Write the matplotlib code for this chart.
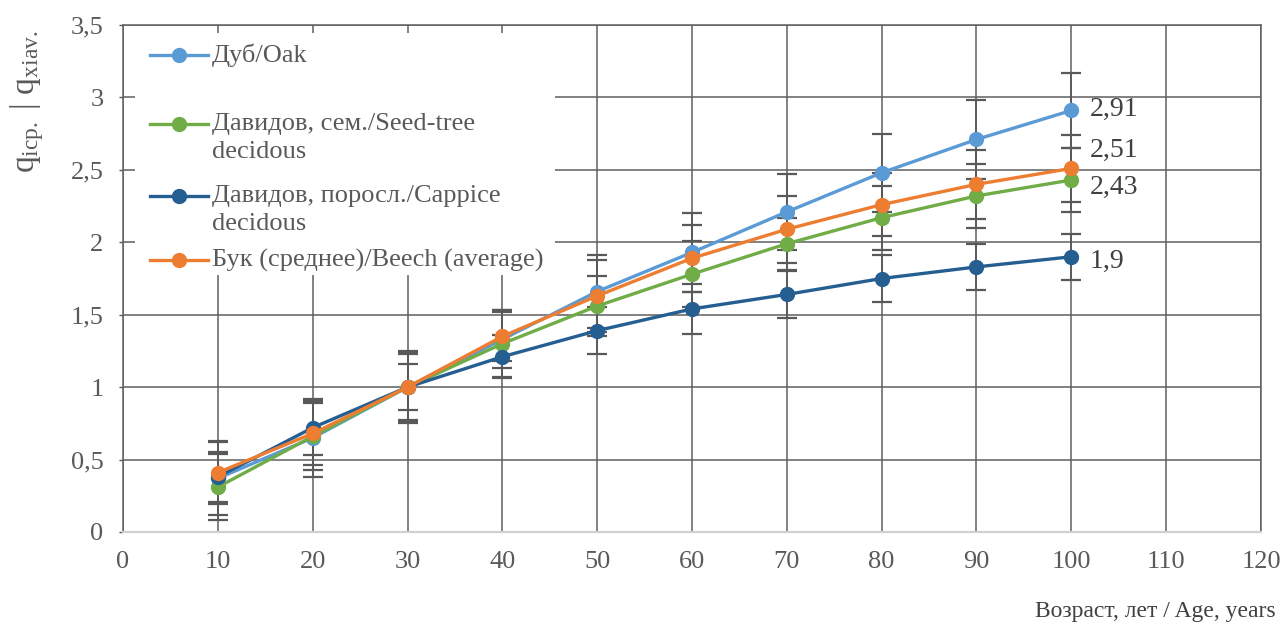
import matplotlib
matplotlib.use("Agg")
import matplotlib.pyplot as plt
import numpy as np

plt.rcParams['font.family'] = ['Liberation Serif', 'DejaVu Serif']
plt.rcParams['mathtext.fontset'] = 'custom'
plt.rcParams['mathtext.rm'] = 'Liberation Serif'
plt.rcParams['mathtext.it'] = 'Liberation Serif:italic'

# ---- data ----
ages = [10, 20, 30, 40, 50, 60, 70, 80, 90, 100]
oak = [0.37, 0.65, 1.0, 1.33, 1.66, 1.93, 2.21, 2.48, 2.71, 2.91]
seed = [0.31, 0.66, 1.0, 1.30, 1.56, 1.78, 1.99, 2.17, 2.32, 2.43]
coppice = [0.38, 0.72, 1.0, 1.21, 1.39, 1.54, 1.64, 1.75, 1.83, 1.90]
beech = [0.41, 0.68, 1.0, 1.35, 1.63, 1.89, 2.09, 2.26, 2.40, 2.51]

oak_err = [0.25, 0.27, 0.25, 0.20, 0.25, 0.27, 0.26, 0.27, 0.27, 0.26]
seed_err = [0.23, 0.23, 0.23, 0.23, 0.21, 0.23, 0.18, 0.22, 0.22, 0.22]
coppice_err = [0.17, 0.19, 0.16, 0.15, 0.16, 0.17, 0.16, 0.16, 0.16, 0.16]
beech_err = [0.22, 0.22, 0.24, 0.17, 0.25, 0.23, 0.23, 0.22, 0.24, 0.23]

labels = ["Дуб/Oak",
          "Давидов, сем./Seed-tree\ndecidous",
          "Давидов, поросл./Cappice\ndecidous",
          "Бук (среднее)/Beech (average)"]
colors = ["#5B9BD5", "#70AD47", "#255E91", "#ED7D31"]

x_ticks = list(range(0, 130, 10))
y_ticks = [0, 0.5, 1, 1.5, 2, 2.5, 3, 3.5]
y_tick_labels = ["0", "0,5", "1", "1,5", "2", "2,5", "3", "3,5"]

W, H = 1282, 627
fig = plt.figure(figsize=(W / 100, H / 100), dpi=100)
ax = fig.add_axes([123 / W, 1 - 532 / H, (1261 - 123) / W, (532 - 25) / H])

grey = "#595959"
ax.set_xlim(0, 120)
ax.set_ylim(0, 3.5)
ax.set_xticks(x_ticks)
ax.set_xticklabels([str(t) for t in x_ticks])
ax.set_yticks(y_ticks)
ax.set_yticklabels(y_tick_labels)
ax.tick_params(axis='x', length=0, pad=14, labelsize=19, labelcolor=grey)
ax.tick_params(axis='y', length=3, width=1, color=grey, pad=11, labelsize=19, labelcolor=grey)
ax.grid(True, color="#5f5f5f", linewidth=1.1, zorder=0)
ax.set_axisbelow(True)
for s in ['top', 'right', 'left']:
    ax.spines[s].set_color("#5f5f5f")
    ax.spines[s].set_linewidth(1.1)
ax.spines['bottom'].set_color("#d0d0d0")
ax.spines['bottom'].set_linewidth(1.6)

series = [oak, seed, coppice, beech]
errs = [oak_err, seed_err, coppice_err, beech_err]
for vals, er in zip(series, errs):
    ax.errorbar(ages, vals, yerr=er, fmt='none', ecolor=grey, elinewidth=1.3,
                capsize=7, capthick=1.6, zorder=2)
for vals, c in zip(series, colors):
    ax.plot(ages, vals, color=c, lw=2.4, marker='o', ms=10, zorder=3)

# data labels at last point
label_offsets = [(13, 1), (13, -5), (13, -3), (13, 13)]
for (vals, c), (dx, dy) in zip(zip(series, colors), label_offsets):
    txt = ("%g" % vals[-1]).replace('.', ',')
    ax.annotate(txt, (ages[-1], vals[-1]), xytext=(dx, dy), textcoords='offset points',
                ha='left', va='center', fontsize=20, color="#404040", zorder=5)

# legend (manual, Excel-like)
def fx(px):
    return (px - 123) / (1261 - 123)

def fy(py):
    return (532 - py) / (532 - 25)

ax.add_patch(plt.Rectangle((fx(135), fy(275)), fx(555) - fx(135), fy(33) - fy(275),
                           transform=ax.transAxes, facecolor='white', edgecolor='none', zorder=4))
leg_y = [55, 124, 196, 260]
for lab, c, py in zip(labels, colors, leg_y):
    ax.plot([fx(150), fx(208)], [fy(py), fy(py)], transform=ax.transAxes, color=c, lw=2.4,
            zorder=5, clip_on=False)
    ax.plot([fx(179)], [fy(py)], transform=ax.transAxes, color=c, marker='o', ms=10,
            zorder=5, clip_on=False)
    for k, line in enumerate(lab.split("\n")):
        ax.text(fx(212), fy(py + 28 * k), line, transform=ax.transAxes, ha='left',
                va='center', fontsize=19, color=grey, zorder=6)

fig.text(27 / W, 1 - 102 / H, r"q$_{\mathrm{icp.}}$ | q$_{\mathrm{xiav.}}$", rotation=90,
         ha='center', va='center', fontsize=24, color=grey)
fig.text(1276 / W, 1 - 612 / H, "Возраст, лет / Age, years", ha='right', va='center',
         fontsize=17, color="#404040")

fig.savefig("out.png", dpi=100)
